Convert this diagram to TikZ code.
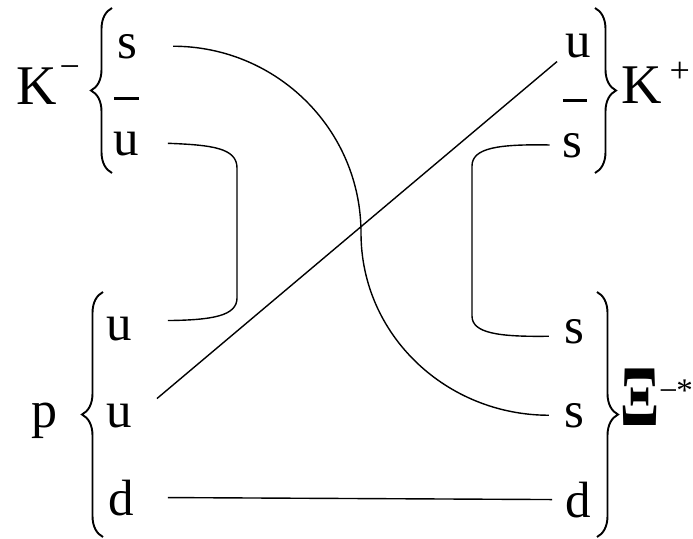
\documentclass[tikz,border=0pt]{standalone}
\usepackage{fontspec}
\setmainfont{Liberation Serif}
\usetikzlibrary{decorations.pathreplacing,positioning}
% antiquark: letter with a raised bar
\newcommand{\antiq}[1]{\ooalign{#1\cr\hfil\smash{\rule[1.08em]{0.48em}{0.05em}}\cr}}
\newcommand{\charge}[2][0.45em]{\raisebox{#1}{\fontsize{36}{36}\selectfont #2}}

\begin{document}
\begin{tikzpicture}[x=1pt, y=1pt,
      quark/.style={font=\fontsize{51}{60}\selectfont, inner sep=0pt, anchor=base},
      hadron/.style={font=\fontsize{56}{60}\selectfont, inner sep=0pt, anchor=base west},
      line/.style={line width=1.4pt},
      curly/.style={decorate, decoration={brace, amplitude=21pt}, line width=1.9pt}]
    \useasboundingbox (0,0) rectangle (693,-538);
    % quarks on the left
    \node[quark] (sL)  at (127,-58)  {s};
    \node[quark] (ubL) at (126,-155) {\antiq{u}};
    \node[quark] (uP)  at (119,-340) {u};
    \node[quark] (uPP) at (119,-427) {u};
    \node[quark] (dP)  at (121,-515) {d};
    % quarks on the right
    \node[quark] (uR)  at (578,-57)  {u};
    \node[quark] (sbR) at (575,-157) {\antiq{s}};
    \node[quark] (sX)  at (574,-343) {s};
    \node[quark] (sXX) at (574,-427) {s};
    \node[quark] (dX)  at (578,-517) {d};
    % braces
    \draw[curly] (112,-173) -- (112,-8);
    \draw[curly] (595,-8) -- (595,-173);
    \draw[curly] (103,-537) -- (103,-292);
    \draw[curly] (597,-292) -- (597,-537);
    % hadrons
    \node[hadron] (Kminus) at (16,-104)  {K\kern3pt\charge[0.45em]{−}};
    \node[hadron] (Kplus)  at (621,-103) {K\kern8pt\charge[0.37em]{+}};
    \node[hadron, font=\fontsize{52}{60}\selectfont] (proton) at (31,-427) {p};
    \node[hadron, font=\fontsize{52}{60}\selectfont] (Xi) at (620,-425)
      {\scalebox{0.8}[1.2]{\fontsize{72}{72}\selectfont\textbf{Ξ}}%
       \raisebox{0.46em}{\fontsize{33}{33}\selectfont −\kern-1.5pt*}};
    % quark lines
    \draw[line] ([xshift=36pt]sL.east) to[out=0, in=90] (361,-233)
                to[out=-90, in=180] ([xshift=-15pt]sXX.west);
    \draw[line] ([xshift=25pt, yshift=17pt]uPP.east) -- ([xshift=-8pt, yshift=-16pt]uR.west);
    \draw[line] ([xshift=29pt]ubL.east) .. controls (212,-145) and (237,-148) .. (237,-168)
                -- (237,-298) .. controls (237,-316) and (212,-320) .. ([xshift=36pt, yshift=8pt]uP.east);
    \draw[line] ([xshift=-13pt]sbR.west) .. controls (498,-144) and (472,-148) .. (472,-166)
                -- (472,-316) .. controls (472,-333) and (498,-337) .. ([xshift=-15pt, yshift=-5pt]sX.west);
    \draw[line] ([xshift=34pt]dP.east) -- ([xshift=-13pt]dX.west);
  \end{tikzpicture}
\end{document}
